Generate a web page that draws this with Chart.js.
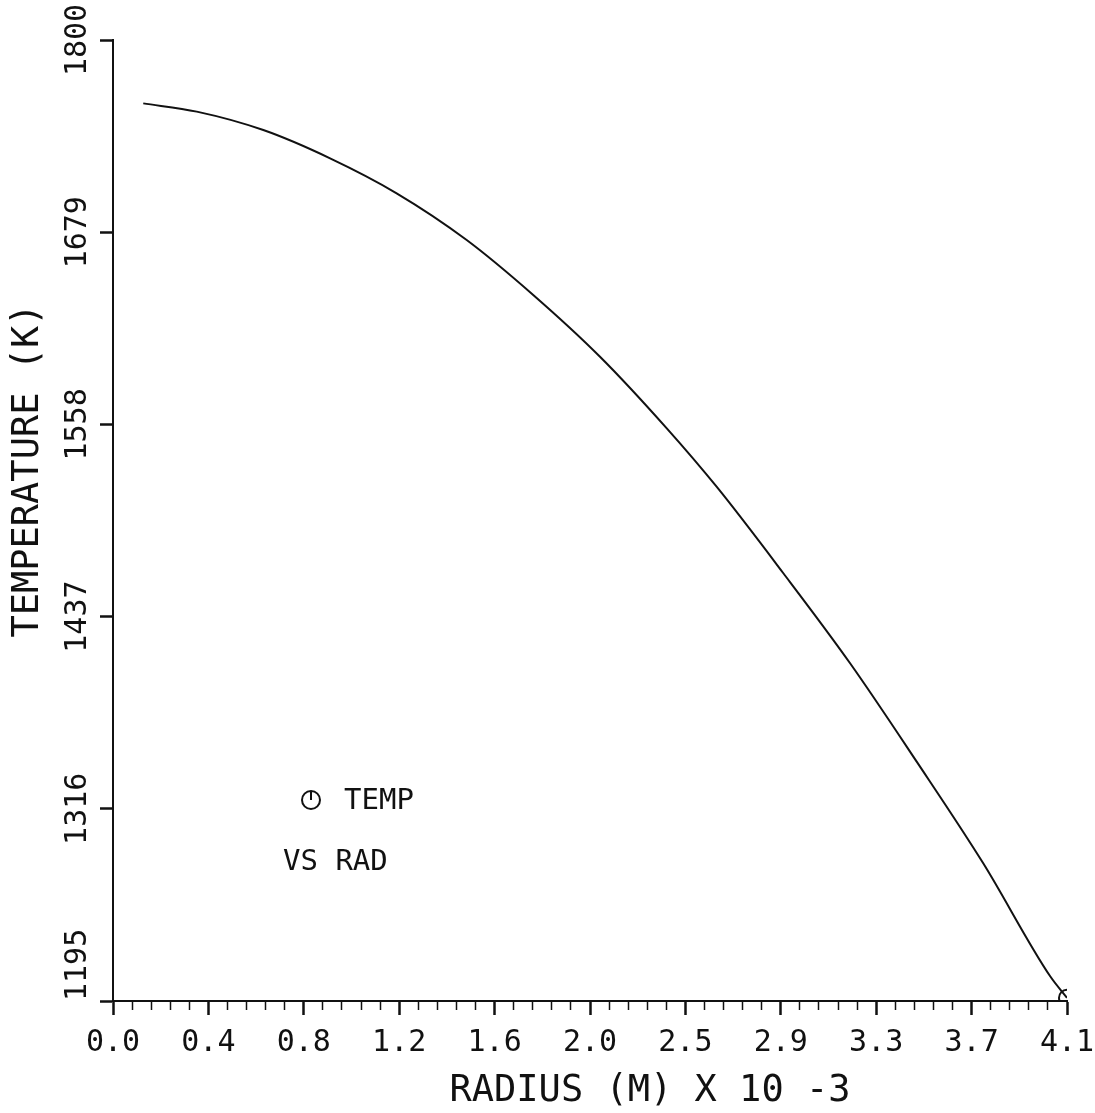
<!DOCTYPE html>
<html><head><meta charset="utf-8">
<script src="https://cdn.jsdelivr.net/npm/chart.js@4/dist/chart.umd.min.js"></script>
<style>html,body{margin:0;padding:0;background:#fff;}</style>
</head><body>
<canvas id="c" width="1095" height="1113"></canvas>
<script>
// ---- data ----
const radius = [0.130, 0.360, 0.646, 0.933, 1.219, 1.520, 1.806, 2.093, 2.380, 2.595, 2.881, 3.167, 3.454, 3.740, 4.027, 4.100];
const temperature = [1760.1, 1754.9, 1743.3, 1725.5, 1703.5, 1674.1, 1639.5, 1600.6, 1555.5, 1518.6, 1464.3, 1407.8, 1345.7, 1281.7, 1210.7, 1197.0];
const xTickLabels = ['0.0', '0.4', '0.8', '1.2', '1.6', '2.0', '2.5', '2.9', '3.3', '3.7', '4.1'];
const yTickValues = [1195, 1316, 1437, 1558, 1679, 1800];
const yTickLabels = ['    1195', '1316', '1437', '1558', '1679', '1800'];
const xMin = 0, xMax = 4.1, yMin = 1195, yMax = 1800;
const minorPerMajor = 5;
const xTitle = 'RADIUS (M) X 10 -3';
const yTitle = 'TEMPERATURE (K)';
const legendLines = ['TEMP', 'VS RAD'];

const FONT = "'DejaVu Sans Mono', monospace";
const INK = '#111';

const points = radius.map((r, i) => ({x: r, y: temperature[i]}));

const annotate = {
  id: 'annotate',
  afterDraw(chart) {
    const {ctx, chartArea: a} = chart;
    ctx.save();
    ctx.fillStyle = INK;
    ctx.strokeStyle = INK;
    // x axis title
    ctx.font = '37px ' + FONT;
    ctx.textAlign = 'center';
    ctx.textBaseline = 'middle';
    ctx.fillText(xTitle, (a.left + a.right) / 2 + 60, a.bottom + 90);
    // y axis title
    ctx.save();
    ctx.translate(28, (a.top + a.bottom) / 2 - 50);
    ctx.rotate(-Math.PI / 2);
    ctx.fillText(yTitle, 0, 0);
    ctx.restore();
    // legend inside plot
    const lx = a.left + 198, ly = a.top + 760;
    ctx.lineWidth = 2;
    ctx.beginPath();
    ctx.arc(lx, ly, 9, 0, Math.PI * 2);
    ctx.stroke();
    ctx.beginPath();
    ctx.moveTo(lx, ly);
    ctx.lineTo(lx, ly - 9);
    ctx.stroke();
    ctx.font = '29px ' + FONT;
    ctx.textAlign = 'left';
    ctx.fillText(legendLines[0], lx + 33, ly + 1);
    ctx.fillText(legendLines[1], a.left + 170, ly + 62);
    ctx.restore();
  }
};

new Chart(document.getElementById('c'), {
  type: 'line',
  data: {
    datasets: [{
      data: points,
      borderColor: INK,
      borderWidth: 2,
      cubicInterpolationMode: 'monotone',
      fill: false,
      pointStyle: 'circle',
      pointRadius: ctx => ctx.dataIndex === temperature.length - 1 ? 8 : 0,
      pointBorderColor: INK,
      pointBackgroundColor: 'rgba(0,0,0,0)',
      pointBorderWidth: 2
    }]
  },
  options: {
    responsive: false,
    animation: false,
    devicePixelRatio: 1,
    layout: {padding: {left: 0, top: 40, right: 0, bottom: 0}},
    plugins: {legend: {display: false}, tooltip: {enabled: false}},
    scales: {
      x: {
        type: 'linear',
        position: 'bottom',
        min: xMin, max: xMax,
        afterBuildTicks: s => {
          const n = (xTickLabels.length - 1) * minorPerMajor;
          const t = [];
          for (let i = 0; i <= n; i++) t.push({value: xMin + (xMax - xMin) * i / n});
          s.ticks = t;
        },
        afterFit: s => { s.height = 112; s.paddingRight = 28; s.paddingLeft = 0; },
        border: {display: true, color: INK, width: 2},
        grid: {
          drawOnChartArea: false,
          drawTicks: true,
          tickLength: 14,
          tickColor: INK,
          tickWidth: c => (c.index % minorPerMajor === 0 ? 2.5 : 1.5),
          tickBorderDash: c => (c.index % minorPerMajor === 0 ? [] : [8, 100])
        },
        ticks: {
          autoSkip: false,
          maxRotation: 0,
          minRotation: 0,
          padding: 10,
          color: INK,
          font: {family: FONT, size: 30},
          callback: (v, i) => (i % minorPerMajor === 0 ? xTickLabels[i / minorPerMajor] : '')
        }
      },
      y: {
        type: 'linear',
        position: 'left',
        min: yMin, max: yMax,
        afterBuildTicks: s => { s.ticks = yTickValues.map(v => ({value: v})); },
        afterFit: s => { s.width = 113; },
        border: {display: true, color: INK, width: 2},
        grid: {
          drawOnChartArea: false,
          drawTicks: true,
          tickLength: 13,
          tickColor: INK,
          tickWidth: 2.5
        },
        ticks: {
          autoSkip: false,
          minRotation: 90,
          maxRotation: 90,
          crossAlign: 'center',
          padding: -50,
          color: INK,
          font: {family: FONT, size: 30},
          callback: (v, i) => yTickLabels[i]
        }
      }
    }
  },
  plugins: [annotate]
});
</script>
</body></html>
